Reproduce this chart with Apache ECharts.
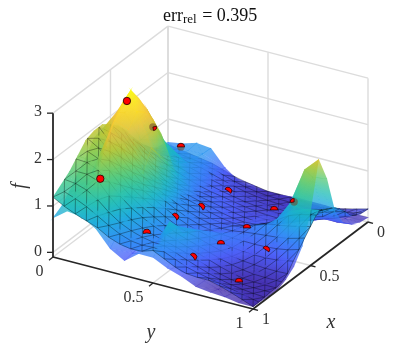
<!DOCTYPE html>
<html><head><meta charset="utf-8">
<style>html,body{margin:0;padding:0;background:#fff}#c{width:407px;height:349px}</style>
<script src="https://cdn.jsdelivr.net/npm/echarts@6/dist/echarts.min.js"></script>
</head><body><div id="c"></div>
<script>
// Height of the meshed surface: rows are x = 0..1, columns are y = 0..1
const meshSurface = [
 [.45,.40,.35,.30,.20,.10,.05,.00,.00,.00,-.03,-.03,.03,.10,.18],
 [.50,.47,.42,.38,.28,.18,.10,.05,.03,.02,.00,.00,.05,.12,.20],
 [.65,.58,.50,.43,.33,.25,.17,.12,.08,.05,.04,.04,.08,.17,.30],
 [.85,.72,.58,.47,.36,.28,.22,.16,.12,.10,.08,.10,.18,.32,.55],
 [1.10,.90,.68,.52,.40,.33,.28,.22,.16,.13,.13,.18,.32,.52,.75],
 [1.40,1.10,.80,.60,.48,.40,.33,.26,.20,.17,.20,.30,.50,.70,.85],
 [1.65,1.30,.95,.72,.58,.48,.40,.30,.24,.23,.32,.50,.77,.90,.96],
 [1.82,1.48,1.10,.85,.70,.57,.45,.35,.30,.33,.45,.55,.60,.66,.74],
 [1.95,1.60,1.22,.95,.80,.64,.50,.40,.34,.34,.36,.36,.38,.42,.52],
 [1.95,1.66,1.32,1.03,.87,.70,.54,.42,.35,.27,.22,.20,.20,.23,.30],
 [1.88,1.72,1.42,1.10,.90,.72,.55,.43,.34,.24,.15,.10,.07,.05,.05],
 [1.68,1.65,1.45,1.12,.88,.70,.55,.44,.34,.24,.13,.04,-.02,-.02,-.02],
 [1.47,1.50,1.40,1.05,.80,.65,.54,.47,.37,.26,.14,.05,.00,-.02,-.02],
 [1.33,1.25,1.10,.88,.70,.58,.53,.54,.42,.30,.20,.12,.05,.00,-.04],
 [1.19,1.02,.90,.80,.62,.52,.50,.60,.45,.30,.27,.27,.18,.07,-.05]
];
// Height of the smooth surface: rows are y = 0..1, columns are x = 0..1
const smoothSurface = [
 [.5,.55,.6,.7,.85,1.1,1.4,1.7,1.85,1.8,1.5,1.3,1.05,.85,.74],
 [.55,.6,.62,.68,.9,1.3,1.75,2.15,2.3,2.0,1.5,1.4,1.2,1.25,.97],
 [.64,.62,.65,.85,1.24,1.7,2.16,2.53,2.85,2.72,2.47,2.05,1.5,1.25,.93],
 [.61,.62,.65,.7,.85,1.1,1.7,2.15,2.45,2.6,2.35,1.45,1.3,1.05,.75],
 [.27,.35,.42,.5,.58,.72,.95,1.3,1.6,1.9,1.5,.95,.82,.6,.4],
 [.05,.1,.18,.25,.3,.38,.44,.52,.58,.62,.58,.45,.3,.25,.22],
 [0,.03,.1,.17,.22,.28,.33,.4,.44,.48,.46,.42,.4,.4,.45],
 [0,.02,.05,.1,.15,.2,.25,.31,.36,.4,.5,.72,.95,.62,.45],
 [0,0,.03,.07,.1,.15,.2,.26,.31,.42,.58,.72,.75,.5,.3],
 [.03,.04,.08,.13,.18,.22,.26,.3,.36,.45,.5,.45,.35,.25,.2],
 [.02,.03,.07,.11,.17,.24,.3,.35,.38,.38,.3,.18,.08,.05,.06],
 [.02,.03,.08,.14,.22,.34,.42,.42,.35,.2,.1,.04,-.03,-.05,.02],
 [0,.03,.08,.2,.34,.6,.95,.7,.35,.12,.05,0,-.05,-.05,0],
 [0,.03,.08,.28,.7,1.45,1.75,1.1,.5,.18,.03,-.07,-.07,-.05,-.05],
 [0,.03,.12,.28,.65,1.5,2.05,1.05,.45,.15,0,-.08,-.08,-.06,-.05]
];
const sampleX = [.632,.34,.131,.90,.923,.723,.54,.264,.225,.112,.479,.714,.926,.644,.879];
const sampleY = [.158,.12,.14,.179,.425,.451,.476,.452,.66,.695,.67,.675,.658,.86,.86];
const sampleF = [2.75,1.6,.8,1.6,.75,.75,.65,.45,.2,.2,.3,.4,.5,.35,.1];
const xTicks = [0,.5,1], yTicks = [0,.5,1], fTicks = [0,1,2,3];
const xTickText = ['0','0.5','1'], yTickText = ['0','0.5','1'], fTickText = ['0','1','2','3'];
const titleText = ['err','rel',' = 0.395'];

// styles
const SERIF = '"Liberation Serif","DejaVu Serif",serif';
const FLOOR = -0.1, TOP = 3;
const CL = [-.05, 2.85];
const parula = [[62,38,168],[71,90,249],[45,135,247],[24,170,220],[30,190,180],[70,200,130],[130,203,85],[200,195,40],[246,190,60],[250,215,40],[249,250,14]];
const ALPHA_MESH = .84, ALPHA_SMOOTH = .76;
const sampleCut = [null,[-10,80],[180,360],null,[170,370],[220,420],[220,420],[210,400],[180,360],[170,270],[180,360],[180,360],[220,420],[215,395],[180,360]];
const sampleTint = [1,.35,.35,1,.2,.2,.2,.2,.2,.35,.2,.2,.2,.2,.2];

function proj(x,y,z){ return [168-115*x+200*y, 170+87*x+52*y-46.4*(z-FLOOR)]; }
function depth(x,y,z){ return 176*x+105*y+23*z; }
function col(z){
  let t=(z-CL[0])/(CL[1]-CL[0])*(parula.length-1);
  t=Math.max(0,Math.min(parula.length-1.0001,t));
  const k=Math.floor(t),f=t-k,a=parula[k],b=parula[k+1];
  return 'rgb('+[0,1,2].map(n=>Math.round(a[n]+(b[n]-a[n])*f)).join(',')+')';
}
const N = 15, u = i=>i/(N-1);
const meshH=(i,j)=>meshSurface[i][j], smoothH=(i,j)=>smoothSurface[j][i];
const faces=[];
function addTri(h,vs,a){
  const P=vs.map(v=>[u(v[0]),u(v[1]),h(v[0],v[1])]);
  const d=(depth(...P[0])+depth(...P[1])+depth(...P[2]))/3;
  faces.push({k:'t',p:P,d,a});
}
function addSurface(h,a){
  for(let i=0;i<N-1;i++)for(let j=0;j<N-1;j++){
    const p=[i,j],b=[i+1,j],c=[i+1,j+1],e=[i,j+1];
    if((i+j)%2){addTri(h,[p,b,e],a);addTri(h,[b,c,e],a);}
    else{addTri(h,[p,b,c],a);addTri(h,[p,c,e],a);}
  }
}
addSurface(meshH,ALPHA_MESH);addSurface(smoothH,ALPHA_SMOOTH);
// wireframe of the meshed surface: triangular lattice laid over its facets
function meshAt(x,y){
  const fi=Math.min(N-1.0001,x*(N-1)),fj=Math.min(N-1.0001,y*(N-1)),i=Math.floor(fi),j=Math.floor(fj),a=fi-i,b=fj-j;
  return meshH(i,j)*(1-a)*(1-b)+meshH(i+1,j)*a*(1-b)+meshH(i,j+1)*(1-a)*b+meshH(i+1,j+1)*a*b;
}
const ROWS=20, COLS=18;
const node=(k,l)=>{const x=k/ROWS,y=Math.max(0,Math.min(1,(l+(k%2?.5:0))/COLS));return [x,y,meshAt(x,y)];};
function addEdge(A,B){
  faces.push({k:'e',p:[A,B],d:(depth(...A)+depth(...B))/2+5});
}
for(let k=0;k<=ROWS;k++)for(let l=0;l<=COLS;l++){
  if(l<COLS) addEdge(node(k,l),node(k,l+1));
  if(k<ROWS){
    addEdge(node(k,l),node(k+1,l));
    const l2=(k%2)?l+1:l-1;
    if(l2>=0&&l2<=COLS) addEdge(node(k,l),node(k+1,l2));
  }
}
faces.sort((a,b)=>a.d-b.d);

function triStyle(pts,zs){
  let lo=0,hi=0;zs.forEach((z,n)=>{if(z<zs[lo])lo=n;if(z>zs[hi])hi=n;});
  const dz=zs[hi]-zs[lo];
  if(dz<1e-4) return col(zs[0]);
  const [a,b,c]=pts;
  const ux=b[0]-a[0],uy=b[1]-a[1],vx=c[0]-a[0],vy=c[1]-a[1],du=zs[1]-zs[0],dv=zs[2]-zs[0];
  const det=ux*vy-uy*vx;
  if(Math.abs(det)<1e-3) return col((zs[lo]+zs[hi])/2);
  const gx=(du*vy-dv*uy)/det,gy=(dv*ux-du*vx)/det,g2=gx*gx+gy*gy;
  const s=pts[lo];
  const stops=[];
  for(let n=0;n<=4;n++)stops.push({offset:n/4,color:col(zs[lo]+dz*n/4)});
  return {type:'linear',global:true,x:s[0],y:s[1],x2:s[0]+gx*dz/g2,y2:s[1]+gy*dz/g2,colorStops:stops};
}
function grow(pts,e){
  const c=[(pts[0][0]+pts[1][0]+pts[2][0])/3,(pts[0][1]+pts[1][1]+pts[2][1])/3];
  const L=(p,q)=>Math.hypot(p[0]-q[0],p[1]-q[1]);
  const per=L(pts[0],pts[1])+L(pts[1],pts[2])+L(pts[2],pts[0]);
  const area=Math.abs((pts[1][0]-pts[0][0])*(pts[2][1]-pts[0][1])-(pts[1][1]-pts[0][1])*(pts[2][0]-pts[0][0]))/2;
  const r=2*area/per;
  const f=1+Math.min(.6,e/Math.max(r,.05));
  return pts.map(p=>[c[0]+(p[0]-c[0])*f,c[1]+(p[1]-c[1])*f]);
}
const at=(api,q)=>api.coord(proj(q[0],q[1],q[2]));
function renderSurface(params,api){
  const it=faces[params.dataIndex];
  if(it.k==='t'){
    const pts=it.p.map(q=>at(api,q));
    return {type:'polygon',shape:{points:grow(pts,.16)},style:{fill:triStyle(pts,it.p.map(q=>q[2])),opacity:it.a,stroke:null},silent:true};
  }
  const a=at(api,it.p[0]),b=at(api,it.p[1]);
  return {type:'line',shape:{x1:a[0],y1:a[1],x2:b[0],y2:b[1]},style:{stroke:'rgba(0,0,0,.68)',lineWidth:.5,fill:null},silent:true};
}
// box
const walls=[];
const wallLine=(a,b,w)=>walls.push({a,b,w:w||1.4});
fTicks.forEach(z=>{wallLine([1,0,z],[0,0,z]);wallLine([0,0,z],[0,1,z]);});
wallLine([1,0,FLOOR],[0,0,FLOOR]);wallLine([0,0,FLOOR],[0,1,FLOOR]);
wallLine([0,0,FLOOR],[0,0,TOP],1.9);wallLine([0,1,FLOOR],[0,1,TOP]);
wallLine([.5,0,FLOOR],[.5,0,TOP]);wallLine([0,.5,FLOOR],[0,.5,TOP]);
wallLine([.5,0,FLOOR],[.5,1,FLOOR]);wallLine([0,.5,FLOOR],[1,.5,FLOOR]);
function renderWall(p,api){
  const w=walls[p.dataIndex],a=at(api,w.a),b=at(api,w.b);
  return {type:'line',shape:{x1:a[0],y1:a[1],x2:b[0],y2:b[1]},style:{stroke:'#dcdcdc',lineWidth:w.w,fill:null},silent:true};
}
// axes
const axes=[];
const AX='#262626';
axes.push({t:'l',a:[1,0,FLOOR],b:[1,0,TOP],w:1.8});
axes.push({t:'l',a:[1,0,FLOOR],b:[1,1,FLOOR],w:1.8});
axes.push({t:'l',a:[1,1,FLOOR],b:[0,1,FLOOR],w:1.8});
fTicks.forEach((z,n)=>{axes.push({t:'l',a:[1,0,z],b:[1,0,z],o:[-6,0],w:1.3});
  axes.push({t:'s',a:[1,0,z],o:[-15,-1],s:fTickText[n],al:'center'});});
yTicks.forEach((y,n)=>{axes.push({t:'l',a:[1,y,FLOOR],b:[1,y,FLOOR],o:[-4,3.2],w:1.3});
  axes.push({t:'s',a:[1,y,FLOOR],o:[-9.5,15],s:yTickText[n],al:'right'});});
xTicks.forEach((x,n)=>{axes.push({t:'l',a:[x,1,FLOOR],b:[x,1,FLOOR],o:[5,1.4],w:1.3});
  axes.push({t:'s',a:[x,1,FLOOR],o:[9,11],s:xTickText[n],al:'left'});});
function renderAxis(p,api){
  const it=axes[p.dataIndex],a=at(api,it.a);
  if(it.t==='l'){
    const b=at(api,it.b),o=it.o||[0,0];
    return {type:'line',shape:{x1:a[0],y1:a[1],x2:b[0]+o[0],y2:b[1]+o[1]},style:{stroke:AX,lineWidth:it.w,fill:null},silent:true};
  }
  return {type:'text',x:a[0]+it.o[0],y:a[1]+it.o[1],style:{text:it.s,fill:'#333',font:'16px '+SERIF,textAlign:it.al,textVerticalAlign:'middle'},silent:true};
}
function renderDot(p,api){
  const n=p.dataIndex,c=api.coord(proj(sampleX[n],sampleY[n],sampleF[n])),R=3.7,cut=sampleCut[n];
  const kids=[];
  if(!cut) kids.push({type:'circle',shape:{cx:c[0],cy:c[1],r:R},style:{fill:'#ff0000',stroke:'#1a0000',lineWidth:.8}});
  else{
    kids.push({type:'sector',shape:{cx:c[0],cy:c[1],r0:0,r:R,startAngle:cut[0]*Math.PI/180,endAngle:cut[1]*Math.PI/180,clockwise:true},style:{fill:'#ff0000',stroke:'#1a0000',lineWidth:.7}});
  }
  return {type:'group',children:kids,silent:true};
}
function renderTint(p,api){
  const n=p.dataIndex,c=api.coord(proj(sampleX[n],sampleY[n],sampleF[n]));
  return {type:'circle',shape:{cx:c[0],cy:c[1],r:3.7},style:{fill:'rgba(110,70,40,'+(sampleCut[n]&&sampleTint[n]>.3?.55:0)+')'},silent:true};
}
const axisLabels=[{s:'f',x:20,y:186,r:Math.PI/2},{s:'y',x:151,y:333,r:0},{s:'x',x:331,y:323,r:0}];
function renderName(p,api){
  const it=axisLabels[p.dataIndex],c=api.coord([it.x,it.y]);
  return {type:'text',x:c[0],y:c[1],rotation:it.r,style:{text:it.s,fill:'#333',font:'italic 20px '+SERIF,textAlign:'center',textVerticalAlign:'middle'},silent:true};
}
const idx=a=>a.map((_,i)=>[i]);
const custom=(data,renderItem,z)=>({type:'custom',coordinateSystem:'cartesian2d',data,renderItem,z,clip:false,animation:false,progressive:0,silent:true});
const chart=echarts.init(document.getElementById('c'));
chart.setOption({
  animation:false,
  title:{text:'{a|'+titleText[0]+'}{b|'+titleText[1]+'}{a|'+titleText[2]+'}',left:163,top:6,padding:0,
    textStyle:{fontWeight:'normal',rich:{a:{fontFamily:SERIF,fontSize:18,fontWeight:'normal',color:'#111',lineHeight:20},b:{fontFamily:SERIF,fontSize:13,fontWeight:'normal',color:'#111',verticalAlign:'bottom',lineHeight:15,padding:[5,1,0,0]}}}},
  grid:{left:0,right:0,top:0,bottom:0},
  xAxis:{type:'value',min:0,max:407,show:false},
  yAxis:{type:'value',min:0,max:349,inverse:true,show:false},
  series:[
    custom(idx(walls),renderWall,1),
    custom(idx(faces),renderSurface,2),
    custom(idx(sampleX),renderTint,3),
    custom(idx(sampleX),renderDot,4),
    custom(idx(axes),renderAxis,5),
    custom(idx(axisLabels),renderName,5)
  ]
});
</script></body></html>
